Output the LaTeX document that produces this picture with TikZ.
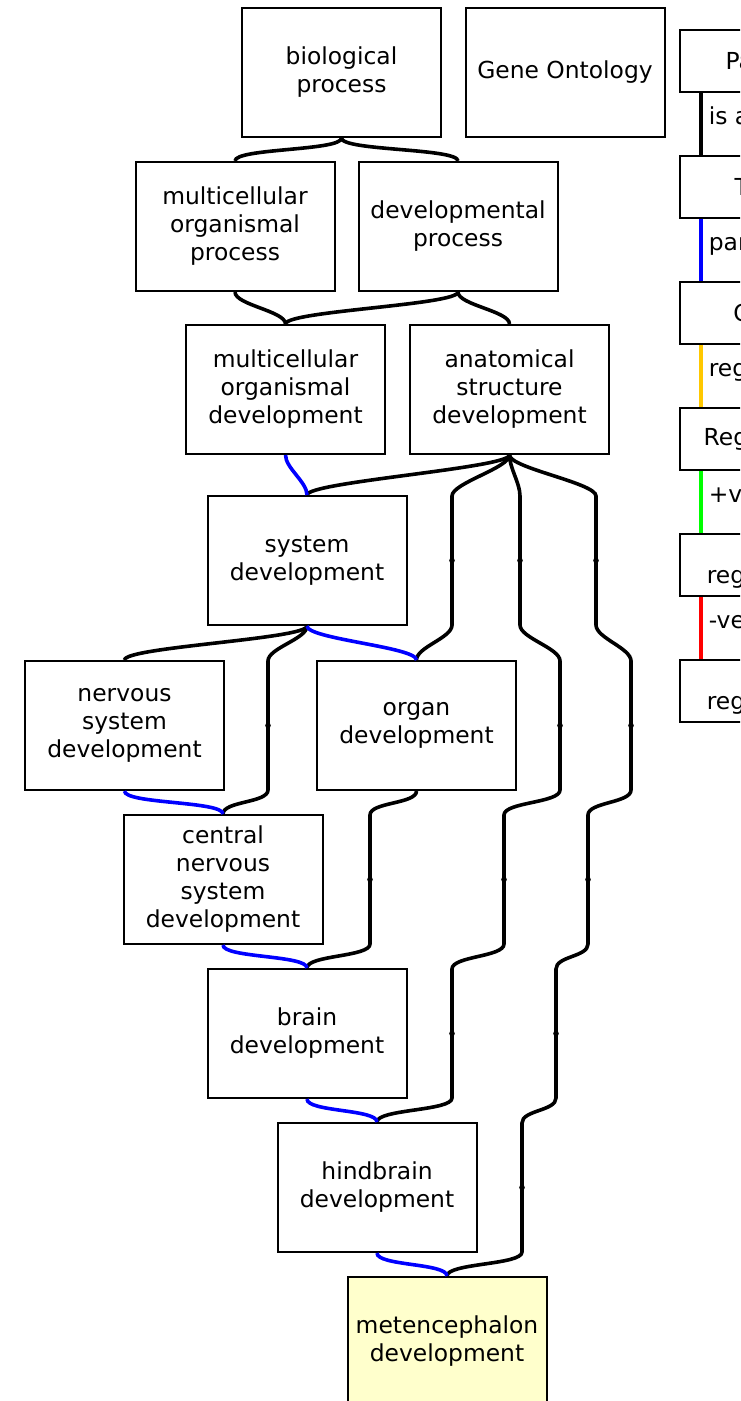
\documentclass[tikz,border=0pt]{standalone}
\usepackage{fontspec}
\setmainfont{DejaVu Sans}
\usepackage{xcolor}
\definecolor{gopart}{RGB}{0,0,255}
\definecolor{goreg}{RGB}{255,200,0}
\definecolor{gopos}{RGB}{0,255,0}
\definecolor{goneg}{RGB}{255,0,0}
\definecolor{gofocus}{RGB}{255,255,204}

\begin{document}
\begin{tikzpicture}[x=0.5pt, y=-0.5pt,
    term/.style={draw, line width=1pt, fill=white,
                 minimum width=99.5pt, minimum height=64.5pt,
                 inner sep=0pt, align=center,
                 font=\fontsize{11.7}{14}\selectfont},
    keybox/.style={term, minimum width=83pt, minimum height=31pt},
    isa/.style={line width=1.8pt},
    partof/.style={isa, gopart},
    sbend/.style={to path={.. controls +(0,13) and +(0,-13) .. (\tikztotarget) \tikztonodes}},
    lanedot/.style={circle, fill=black, inner sep=0pt, minimum size=2.8pt},
    keylabel/.style={anchor=north west, inner sep=0pt, text=black,
                     font=\fontsize{11.7}{14}\selectfont}
  ]
  \useasboundingbox (0,0) rectangle (740,1401);
  \clip (0,0) rectangle (740,1401);
  % Terms
  \node[term] (bp)     at (341.5,72.5)   {biological\\process};
  \node[term] (gonode) at (565,72.5)     {Gene Ontology};
  \node[term] (mop)    at (235,226.5)    {multicellular\\organismal\\process};
  \node[term] (dp)     at (458,226.5)    {developmental\\process};
  \node[term] (mod)    at (285.5,389.5)  {multicellular\\organismal\\development};
  \node[term] (asd)    at (509.5,389.5)  {anatomical\\structure\\development};
  \node[term] (sd)     at (307,560.5)    {system\\development};
  \node[term] (nsd)    at (124.5,725.5)  {nervous\\system\\development};
  \node[term] (organ)  at (416.5,725.5)  {organ\\development};
  \node[term] (cnsd)   at (223,879.5)    {central\\nervous\\system\\development};
  \node[term] (brain)  at (307,1033.5)   {brain\\development};
  \node[term] (hind)   at (377,1187.5)   {hindbrain\\development};
  \node[term, fill=gofocus] (meten) at (447,1341.5) {metencephalon\\development};
  % Lanes for the long edges
  \coordinate (a1t) at (452,496);  \coordinate (a1b) at (452,625);
  \coordinate (s1t) at (268,661);  \coordinate (s1b) at (268,790);
  \coordinate (o1t) at (370,815);  \coordinate (o1b) at (370,944);
  \coordinate (b1t) at (520,496);  \coordinate (b1b) at (520,625);
  \coordinate (b2t) at (560,661);  \coordinate (b2b) at (560,790);
  \coordinate (b3t) at (504,815);  \coordinate (b3b) at (504,944);
  \coordinate (b4t) at (452,969);  \coordinate (b4b) at (452,1098);
  \coordinate (c1t) at (596,496);  \coordinate (c1b) at (596,625);
  \coordinate (c2t) at (631,661);  \coordinate (c2b) at (631,790);
  \coordinate (c3t) at (588,815);  \coordinate (c3b) at (588,944);
  \coordinate (c4t) at (556,969);  \coordinate (c4b) at (556,1098);
  \coordinate (c5t) at (522,1123); \coordinate (c5b) at (522,1252);
  % is a
  \draw[isa] (bp.south) to[sbend] (mop.north);
  \draw[isa] (bp.south) to[sbend] (dp.north);
  \draw[isa] (mop.south) to[sbend] (mod.north);
  \draw[isa] (dp.south) to[sbend] (mod.north);
  \draw[isa] (dp.south) to[sbend] (asd.north);
  \draw[isa] (asd.south) to[sbend] (sd.north);
  \draw[isa] (sd.south) to[sbend] (nsd.north);
  \draw[isa] (sd.south) to[sbend] (s1t) -- node[lanedot]{} (s1b) to[sbend] (cnsd.north);
  \draw[isa] (asd.south) to[sbend] (a1t) -- node[lanedot]{} (a1b) to[sbend] (organ.north);
  \draw[isa] (organ.south) to[sbend] (o1t) -- node[lanedot]{} (o1b) to[sbend] (brain.north);
  \draw[isa] (asd.south) to[sbend] (b1t) -- node[lanedot]{} (b1b)
             to[sbend] (b2t) -- node[lanedot]{} (b2b)
             to[sbend] (b3t) -- node[lanedot]{} (b3b)
             to[sbend] (b4t) -- node[lanedot]{} (b4b) to[sbend] (hind.north);
  \draw[isa] (asd.south) to[sbend] (c1t) -- node[lanedot]{} (c1b)
             to[sbend] (c2t) -- node[lanedot]{} (c2b)
             to[sbend] (c3t) -- node[lanedot]{} (c3b)
             to[sbend] (c4t) -- node[lanedot]{} (c4b)
             to[sbend] (c5t) -- node[lanedot]{} (c5b) to[sbend] (meten.north);
  % part of
  \draw[partof] (mod.south) to[sbend] (sd.north);
  \draw[partof] (sd.south) to[sbend] (organ.north);
  \draw[partof] (nsd.south) to[sbend] (cnsd.north);
  \draw[partof] (cnsd.south) to[sbend] (brain.north);
  \draw[partof] (brain.south) to[sbend] (hind.north);
  \draw[partof] (hind.south) to[sbend] (meten.north);
  % Key
  \node[keybox] (kparent) at (763,61)  {Parent};
  \node[keybox] (kterm)   at (763,187) {Term};
  \node[keybox] (kchild)  at (763,313) {Child};
  \node[keybox] (kreg)    at (763,439) {Regulated};
  \node[keybox] (kpos)    at (763,565) {+ve\\regulated};
  \node[keybox] (kneg)    at (763,691) {-ve\\regulated};
  \draw[isa] ([xshift=11pt]kparent.south west) --
    node[keylabel, pos=0, xshift=3pt, yshift=-6pt]{is a} ([xshift=11pt]kterm.north west);
  \draw[isa, gopart] ([xshift=11pt]kterm.south west) --
    node[keylabel, pos=0, xshift=3pt, yshift=-6pt]{part of} ([xshift=11pt]kchild.north west);
  \draw[isa, goreg] ([xshift=11pt]kchild.south west) --
    node[keylabel, pos=0, xshift=3pt, yshift=-6pt]{regulates} ([xshift=11pt]kreg.north west);
  \draw[isa, gopos] ([xshift=11pt]kreg.south west) --
    node[keylabel, pos=0, xshift=3pt, yshift=-6pt]{+ve regulates} ([xshift=11pt]kpos.north west);
  \draw[isa, goneg] ([xshift=11pt]kpos.south west) --
    node[keylabel, pos=0, xshift=3pt, yshift=-6pt]{-ve regulates} ([xshift=11pt]kneg.north west);
\end{tikzpicture}
\end{document}
